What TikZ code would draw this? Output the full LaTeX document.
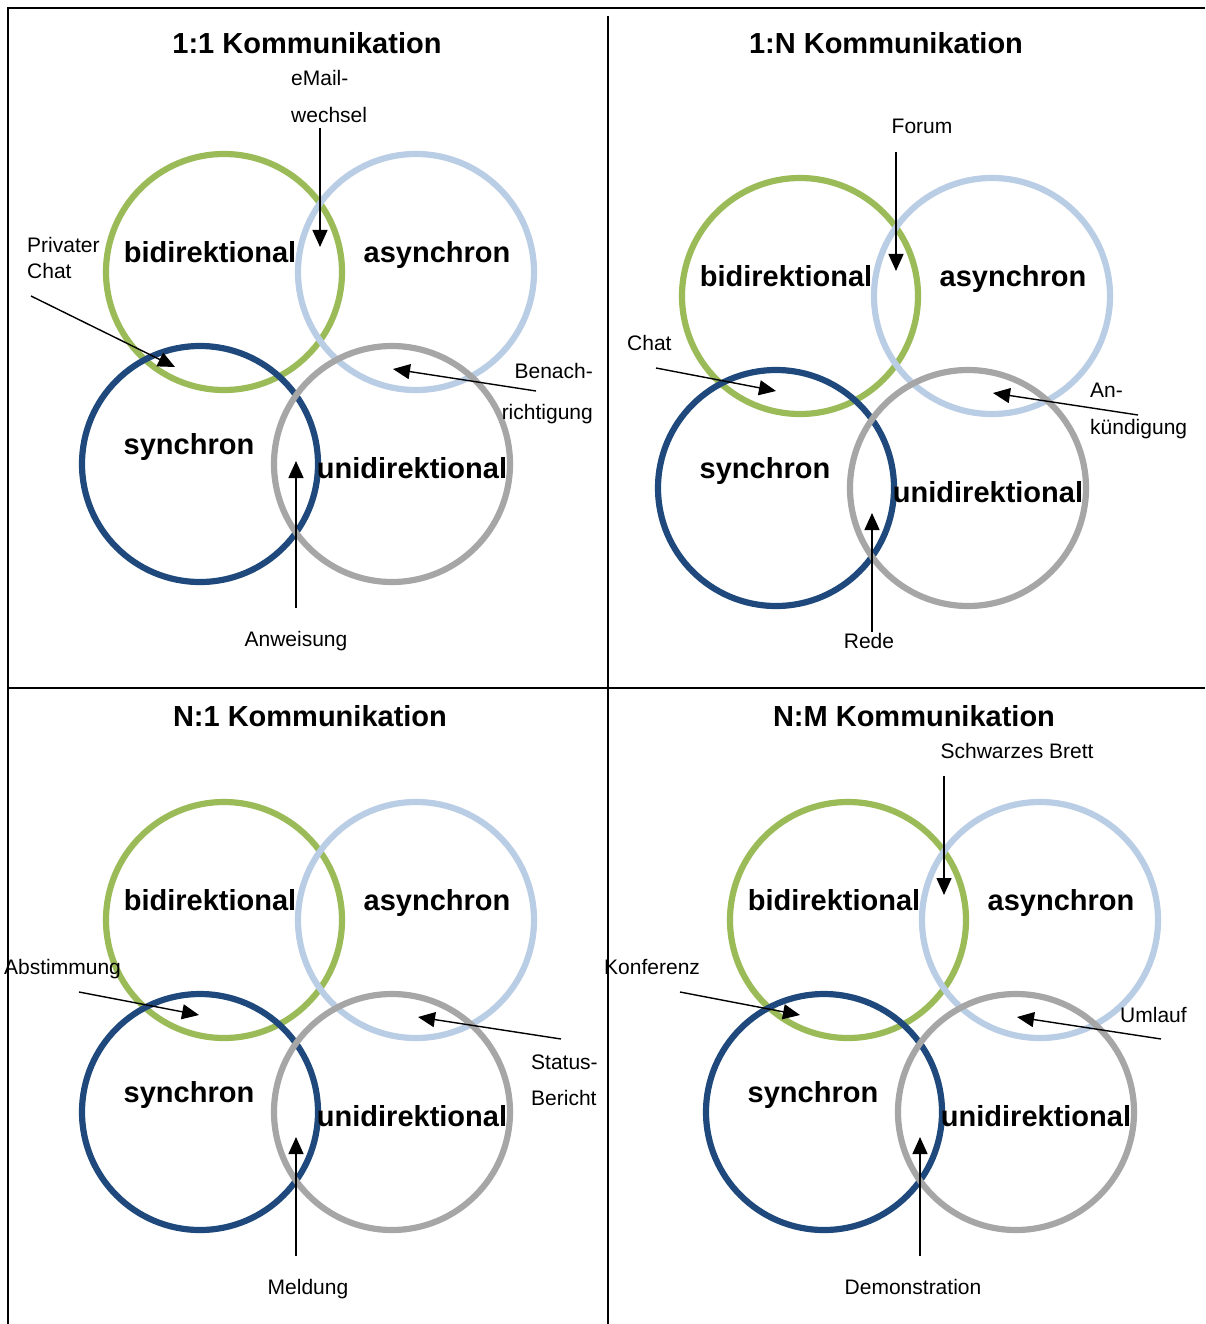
\documentclass[tikz,border=0pt]{standalone}
\usepackage{fontspec}
\setmainfont{Liberation Sans}
\usetikzlibrary{arrows.meta}
\definecolor{ringgreen}{HTML}{9BBB59}
\definecolor{ringlight}{HTML}{B9CDE5}
\definecolor{ringdark}{HTML}{1F497D}
\definecolor{ringgray}{HTML}{A6A6A6}

% four overlapping rings with their labels; #1 = name prefix, #2/#3 = centre of the green ring
\newcommand\ringquad[3]{%
  \begin{scope}[shift={(#2,#3)}]
    \node[ring, draw=ringgreen] (#1bi)  at (0,0)     {};
    \node[ring, draw=ringlight] (#1as)  at (192,0)   {};
    \node[ring, draw=ringdark]  (#1sy)  at (-24,192) {};
    \node[ring, draw=ringgray]  (#1un)  at (168,192) {};
    \node[big] (#1biL) at (-14,-10) {bidirektional};
    \node[big] (#1asL) at (213,-10) {asynchron};
    \node[big] (#1syL) at (-35,182) {synchron};
    \node[big] (#1unL) at (188,206) {unidirektional};
  \end{scope}}

\begin{document}
\begin{tikzpicture}[x=1pt,y=-1pt,
  ring/.style={circle, line width=6.2pt, minimum size=236pt, inner sep=0pt, outer sep=0pt},
  big/.style={font=\fontsize{29}{34}\selectfont\bfseries, inner sep=0pt, anchor=base},
  small/.style={font=\fontsize{21}{25}\selectfont, inner sep=0pt, anchor=base},
  smallL/.style={small, anchor=base west},
  smallR/.style={small, anchor=base east},
  pointer/.style={line width=1.4pt, -{Triangle[length=17pt,width=15pt]}},
  rule/.style={line width=1.4pt}]

\useasboundingbox (0,0) rectangle (1205,1324);

% frame and quadrant dividers
\draw[line width=2.4pt] (1205,8) -- (7,8);
\draw[line width=1.8pt] (8,7) -- (8,1324);
\draw[rule] (608,16) -- (608,1324);
\draw[rule] (8,688) -- (1205,688);

% rings
\ringquad{a}{224}{272}
\ringquad{b}{800}{296}
\ringquad{c}{224}{920}
\ringquad{d}{848}{920}

% 1:1
\node[big] (aTitle) at (307,54) {1:1 Kommunikation};
\node[smallL] (aMailA) at (291,85.5) {eMail-};
\node[smallL] (aMailB) at (291,122.5) {wechsel};
\coordinate (aMailS) at (320,128);
\coordinate (aMailE) at (320,247);
\draw[pointer] (aMailS) -- (aMailE);
\node[smallL] (aChatA) at (27,252.5) {Privater};
\node[smallL] (aChatB) at (27,278.5) {Chat};
\coordinate (aChatS) at (31,296);
\coordinate (aChatE) at (175,367);
\draw[pointer] (aChatS) -- (aChatE);
\node[smallR] (aBenA) at (593,378.5) {Benach-};
\node[smallR] (aBenB) at (593,419) {richtigung};
\coordinate (aBenS) at (536,391);
\coordinate (aBenE) at (393,369);
\draw[pointer] (aBenS) -- (aBenE);
\node[small] (aAnw) at (296,646) {Anweisung};
\coordinate (aAnwS) at (296,608);
\coordinate (aAnwE) at (296,461);
\draw[pointer] (aAnwS) -- (aAnwE);

% 1:N
\node[big] (bTitle) at (886,54) {1:N Kommunikation};
\node[small] (bForum) at (922,133.5) {Forum};
\coordinate (bForumS) at (896,152);
\coordinate (bForumE) at (896,271);
\draw[pointer] (bForumS) -- (bForumE);
\node[smallL] (bChat) at (627,350.5) {Chat};
\coordinate (bChatS) at (656,368);
\coordinate (bChatE) at (776,391);
\draw[pointer] (bChatS) -- (bChatE);
\node[smallL] (bAnkA) at (1090,397.5) {An-};
\node[smallL] (bAnkB) at (1090,434.5) {kündigung};
\coordinate (bAnkS) at (1138,415);
\coordinate (bAnkE) at (993,393);
\draw[pointer] (bAnkS) -- (bAnkE);
\node[small] (bRede) at (869,648.5) {Rede};
\coordinate (bRedeS) at (872,632);
\coordinate (bRedeE) at (872,513);
\draw[pointer] (bRedeS) -- (bRedeE);

% N:1
\node[big] (cTitle) at (310,726) {N:1 Kommunikation};
\node[smallL] (cAbst) at (4,974.5) {Abstimmung};
\coordinate (cAbstS) at (79,992);
\coordinate (cAbstE) at (199,1015);
\draw[pointer] (cAbstS) -- (cAbstE);
\node[smallL] (cStatA) at (531,1069.5) {Status-};
\node[smallL] (cStatB) at (531,1105.5) {Bericht};
\coordinate (cStatS) at (561,1039);
\coordinate (cStatE) at (418,1017);
\draw[pointer] (cStatS) -- (cStatE);
\node[small] (cMeld) at (308,1294.5) {Meldung};
\coordinate (cMeldS) at (296,1256);
\coordinate (cMeldE) at (296,1137);
\draw[pointer] (cMeldS) -- (cMeldE);

% N:M
\node[big] (dTitle) at (914,726) {N:M Kommunikation};
\node[small] (dBrett) at (1017,758.5) {Schwarzes Brett};
\coordinate (dBrettS) at (944,776);
\coordinate (dBrettE) at (944,895);
\draw[pointer] (dBrettS) -- (dBrettE);
\node[smallL] (dKonf) at (604,974.5) {Konferenz};
\coordinate (dKonfS) at (680,992);
\coordinate (dKonfE) at (800,1015);
\draw[pointer] (dKonfS) -- (dKonfE);
\node[smallL] (dUml) at (1120,1022.5) {Umlauf};
\coordinate (dUmlS) at (1161,1039);
\coordinate (dUmlE) at (1017,1017);
\draw[pointer] (dUmlS) -- (dUmlE);
\node[small] (dDemo) at (913,1294.5) {Demonstration};
\coordinate (dDemoS) at (920,1256);
\coordinate (dDemoE) at (920,1137);
\draw[pointer] (dDemoS) -- (dDemoE);

\end{tikzpicture}
\end{document}
